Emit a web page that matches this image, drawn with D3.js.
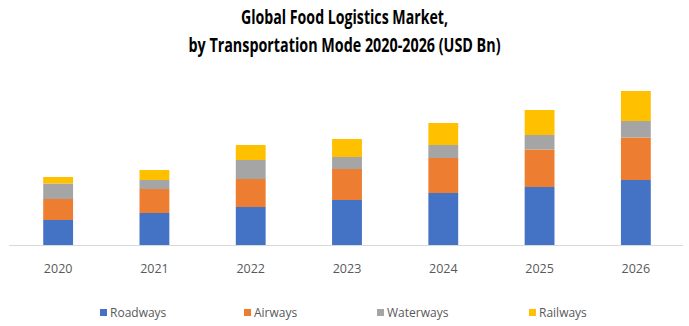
<!DOCTYPE html>
<html><head><meta charset="utf-8">
<script src="https://cdn.jsdelivr.net/npm/d3@7"></script>
<style>body{margin:0;background:#fff}svg{display:block}</style>
</head><body>
<svg id="c" width="689" height="326"></svg>
<script>
const years = ["2020","2021","2022","2023","2024","2025","2026"];
const seriesNames = ["Roadways","Airways","Waterways","Railways"];
const roadways  = [5.0, 6.4, 7.6, 9.0, 10.4, 11.6, 13.0];
const airways   = [4.2, 4.8, 5.6, 6.2, 7.0, 7.5, 8.5];
const waterways = [3.1, 1.8, 3.8, 2.4, 2.6, 2.9, 3.3];
const railways  = [1.3, 2.0, 3.0, 3.6, 4.4, 5.0, 6.0];
const colors = ["#4472C4","#ED7D31","#A5A5A5","#FFC000"];
const titleLines = ["Global Food Logistics Market,","by Transportation Mode 2020-2026 (USD Bn)"];

const rows = years.map((y,i)=>({year:y, Roadways:roadways[i], Airways:airways[i], Waterways:waterways[i], Railways:railways[i]}));
const stack = d3.stack().keys(seriesNames)(rows);

const svg = d3.select("#c");
const x = d3.scaleBand().domain(years).range([10,684]).paddingInner(0.69).paddingOuter(0.345);
const y = d3.scaleLinear().domain([0,40]).range([245,45]);

svg.append("g").selectAll("g").data(stack).join("g")
  .attr("fill",(d,i)=>colors[i])
  .selectAll("rect").data(d=>d).join("rect")
  .attr("x",d=>x(d.data.year)).attr("width",x.bandwidth())
  .attr("y",d=>y(d[1])).attr("height",d=>y(d[0])-y(d[1]));

// baseline
svg.append("line").attr("x1",9).attr("x2",683).attr("y1",y(0)+0.5).attr("y2",y(0)+0.5)
  .attr("stroke","#D9D9D9").attr("stroke-width",1);

const xAxis = svg.append("g").attr("transform",`translate(0,${y(0)})`)
  .call(d3.axisBottom(x).tickSize(0).tickPadding(19));
xAxis.select(".domain").remove();
xAxis.selectAll("text").attr("font-family","'Open Sans', sans-serif").attr("font-size",12.5).attr("fill","#595959");

// title
const tw = [207,312], ty=[24,52];
titleLines.forEach((t,i)=>{
  svg.append("text").attr("x",344.5).attr("y",ty[i]).attr("text-anchor","middle")
    .attr("font-family","'Open Sans', sans-serif").attr("font-weight","bold").attr("font-size",19)
    .attr("textLength",tw[i]).attr("lengthAdjust","spacingAndGlyphs")
    .attr("fill","#000").text(t);
});

// legend
const lx = [100,244,377,529];
const leg = svg.append("g");
seriesNames.forEach((n,i)=>{
  leg.append("rect").attr("x",lx[i]).attr("y",309).attr("width",7).attr("height",7).attr("fill",colors[i]);
  leg.append("text").attr("x",lx[i]+10).attr("y",317).attr("font-family","'Open Sans', sans-serif")
    .attr("font-size",12).attr("fill","#595959").text(n);
});
</script>
</body></html>
